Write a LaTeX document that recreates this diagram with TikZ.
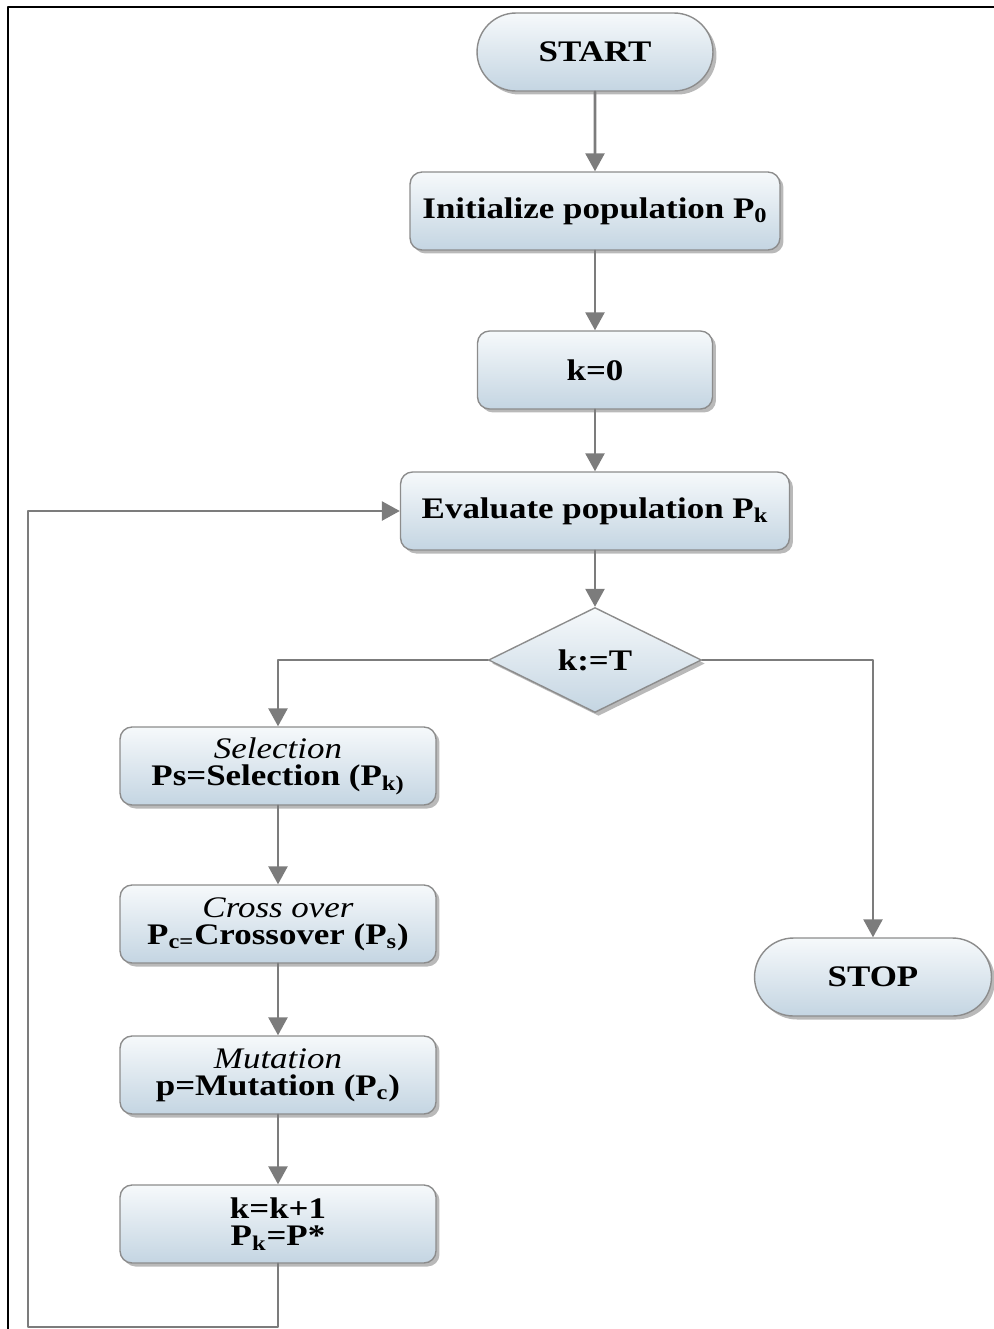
\documentclass[tikz,border=0pt]{standalone}
\usepackage{fontspec}
\setmainfont{Liberation Serif}[FakeStretch=1.17]
\usepackage{tikz}
\usetikzlibrary{
  shapes.geometric,
  shapes.misc,
  shadows,
  arrows.meta
}
\definecolor{boxtop}{HTML}{F6F9FB}
\definecolor{boxbot}{HTML}{C4D5E2}
\definecolor{lineg}{HTML}{7C7C7C}
\definecolor{edgeg}{HTML}{8C8C8C}

\begin{document}
\begin{tikzpicture}[line cap=round,line join=round,>={Triangle[length=0.36cm,width=0.38cm]},x=0.02cm,y=-0.02cm,
  boxbase/.style={draw=edgeg,line width=0.8pt,top color=boxtop,bottom color=boxbot,
    drop shadow={shadow xshift=0.07cm,shadow yshift=-0.07cm,fill=black!50,opacity=0.55},
    inner sep=0pt,align=center,font=\fontsize{17}{15.5}\selectfont\bfseries},
  termbox/.style={boxbase,rounded rectangle,minimum width=4.72cm,minimum height=1.56cm},
  procbox/.style={boxbase,rectangle,rounded corners=0.24cm,minimum height=1.56cm},
  testbox/.style={boxbase,diamond,minimum width=4.26cm,minimum height=2.1cm},
  flow/.style={draw=lineg,line width=1.5pt,->}]
\useasboundingbox (0,0) rectangle (994,1329);
% frame
\draw [line width=1.1pt] (8,1329) -- (8,7) -- (994,7);
% main column
\node [termbox] (start) at (595,52) {START};
\node [procbox,minimum width=7.4cm] (init) at (595,211) {Initialize population P\textsubscript{0}};
\node [procbox,minimum width=4.7cm] (kzero) at (595,370) {k=0};
\node [procbox,minimum width=7.78cm] (eval) at (595,511) {Evaluate population P\textsubscript{k}};
\node [testbox] (cond) at (595,660) {k:=T};
% left column
\node [procbox,minimum width=6.32cm] (sel) at (278,766) {\itshape\mdseries Selection\\Ps=Selection (P\textsubscript{k)}};
\node [procbox,minimum width=6.32cm] (cross) at (278,924) {\itshape\mdseries Cross over\\P\textsubscript{c=}Crossover (P\textsubscript{s})};
\node [procbox,minimum width=6.32cm] (mut) at (278,1075) {\itshape\mdseries Mutation\\p=Mutation (P\textsubscript{c})};
\node [procbox,minimum width=6.32cm] (kinc) at (278,1224) {k=k+1\\P\textsubscript{k}=P*};
% right
\node [termbox,minimum width=4.74cm] (stop) at (873,977) {STOP};
\coordinate (loopbot) at (28,1327);
\draw [flow] (start) -- (init);
\draw [flow] (init) -- (kzero);
\draw [flow] (kzero) -- (eval);
\draw [flow] (eval) -- (cond);
\draw [flow] (cond.west) -| (sel.north);
\draw [flow] (cond.east) -| (stop.north);
\draw [flow] (sel) -- (cross);
\draw [flow] (cross) -- (mut);
\draw [flow] (mut) -- (kinc);
\draw [flow] (kinc.south) -- (kinc.south |- loopbot) -- (loopbot) |- (eval.west);
\end{tikzpicture}
\end{document}
